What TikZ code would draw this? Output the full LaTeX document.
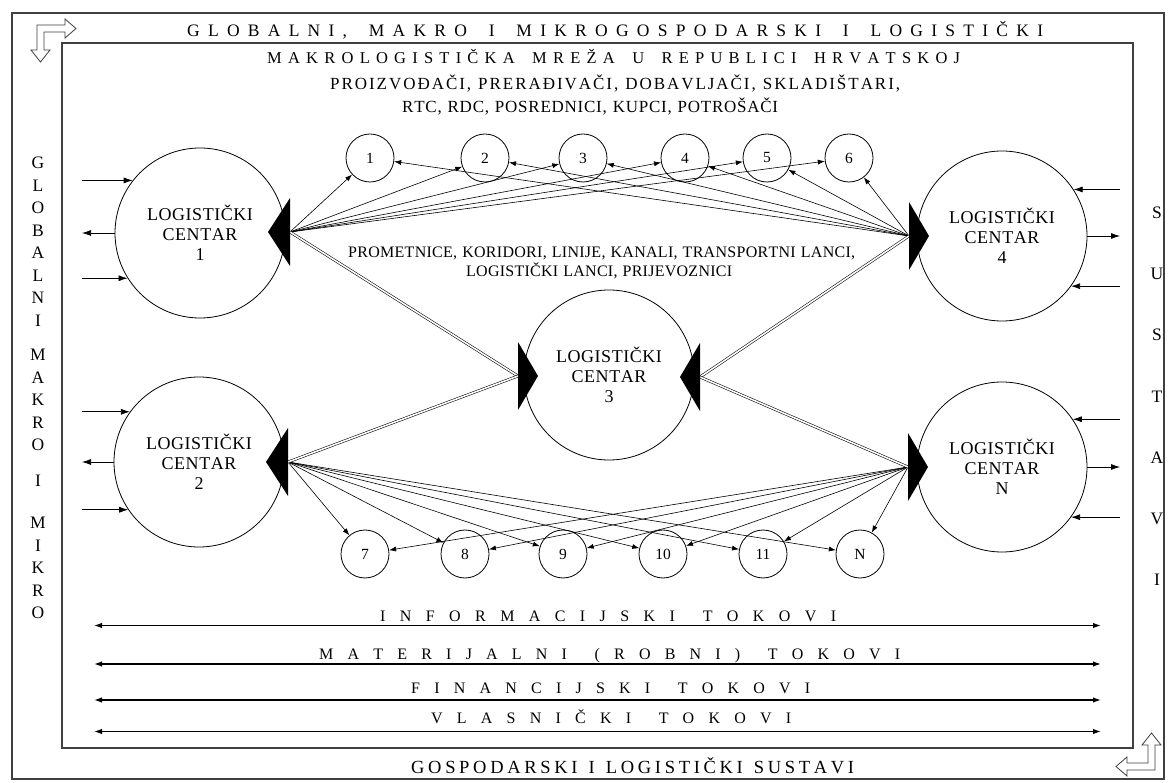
\documentclass[tikz,border=0pt]{standalone}
\usepackage{fontspec}
\setmainfont{Liberation Serif}
\usetikzlibrary{arrows.meta}

% \spread[<word stretch>]{<width>}{<text>}: sets the text in a box of the
% given width, stretching the gaps between letters (and more between words).
\ExplSyntaxOn
\tl_new:N \l__spr_line_tl
\tl_new:N \l__spr_ws_tl
\bool_new:N \l__spr_first_bool
\bool_new:N \l__spr_firstword_bool
\seq_new:N \l__spr_words_seq
\cs_new_protected:Npn \__spr_add_word:n #1
  {
    \bool_if:NTF \l__spr_firstword_bool
      { \bool_set_false:N \l__spr_firstword_bool }
      { \tl_put_right:Nn \l__spr_line_tl { \hskip 0.3em ~ plus ~ \l__spr_ws_tl fil \relax } }
    \bool_set_true:N \l__spr_first_bool
    \tl_map_inline:nn {#1}
      {
        \bool_if:NTF \l__spr_first_bool
          { \bool_set_false:N \l__spr_first_bool }
          { \tl_put_right:Nn \l__spr_line_tl { \hskip 0pt ~ plus ~ 1fil \relax } }
        \tl_put_right:Nn \l__spr_line_tl {##1}
      }
  }
\NewDocumentCommand \spread { O{2} m m }
  {
    \tl_set:Nn \l__spr_ws_tl {#1}
    \tl_clear:N \l__spr_line_tl
    \bool_set_true:N \l__spr_firstword_bool
    \seq_set_split:Nnn \l__spr_words_seq { ~ } {#3}
    \seq_map_function:NN \l__spr_words_seq \__spr_add_word:n
    \hbox to #2 { \l__spr_line_tl }
  }
\ExplSyntaxOff

\begin{document}
\begin{tikzpicture}[x=1pt,y=-1pt,
  frame/.style={draw=black!75, line width=1.1pt},
  corner/.style={draw=black!75, line width=0.8pt, fill=white},
  bigc/.style={circle, draw, line width=0.8pt, minimum size=170pt, inner sep=0pt,
    align=center, font=\fontsize{18}{20}\selectfont},
  smallc/.style={circle, draw, line width=0.8pt, minimum size=48pt, inner sep=0pt,
    font=\fontsize{15.5}{17}\selectfont},
  link/.style={line width=0.6pt, -{Latex[length=7pt,width=5pt]}},
  trunk/.style={double, double distance=1.6pt, line width=0.55pt},
  side/.style={line width=0.75pt, -{Latex[length=9pt,width=6pt]}},
  flow/.style={line width=1.3pt, {Latex[length=8pt,width=5.5pt]}-{Latex[length=8pt,width=5.5pt]}},
  hubtri/.style={fill=black},
  txt/.style={anchor=base west, inner sep=0pt},
  letter/.style={inner sep=0pt, font=\fontsize{17.5}{19}\selectfont},
]
\useasboundingbox (0,0) rectangle (1176,783);
\fill[white] (0,0) rectangle (1176,783);

% frames
\draw[frame] (12,13) rectangle (1164,779);
\draw[frame] (62,43) rectangle (1133,748);

% hollow corner arrows
\draw[corner] (37,25) -- (65,25) -- (65,19) -- (76,28.5) -- (65,38) -- (65,32) -- (44,32)
  -- (44,50) -- (50,50) -- (40.5,62) -- (31,50) -- (37,50) -- cycle;
\draw[corner] (1155,770) -- (1127,770) -- (1127,776) -- (1116,766.5) -- (1127,757) -- (1127,763)
  -- (1148,763) -- (1148,745) -- (1142,745) -- (1151.5,733) -- (1161,745) -- (1155,745) -- cycle;

% headings
\node[txt, font=\fontsize{17.5}{20}\selectfont] (head1) at (187,37)
  {\spread{856pt}{GLOBALNI, MAKRO I MIKROGOSPODARSKI I LOGISTIČKI}};
\node[txt, font=\fontsize{16.5}{19}\selectfont] (head2) at (267,63.5)
  {\spread{693pt}{MAKROLOGISTIČKA MREŽA U REPUBLICI HRVATSKOJ}};
\node[txt, font=\fontsize{17}{19}\selectfont] (actors1) at (330,89.5)
  {\spread[1]{570pt}{PROIZVOĐAČI, PRERAĐIVAČI, DOBAVLJAČI, SKLADIŠTARI,}};
\node[txt, font=\fontsize{17}{19}\selectfont] (actors2) at (402,112.5)
  {\spread[1]{376pt}{RTC, RDC, POSREDNICI, KUPCI, POTROŠAČI}};
\node[txt, font=\fontsize{16}{19}\selectfont] (routes1) at (348,258)
  {\spread[1]{507pt}{PROMETNICE, KORIDORI, LINIJE, KANALI, TRANSPORTNI LANCI,}};
\node[txt, font=\fontsize{16}{19}\selectfont] (routes2) at (466,277)
  {\spread[1]{266pt}{LOGISTIČKI LANCI, PRIJEVOZNICI}};

% vertical side captions
\foreach \ch/\yy [count=\i] in {G/163,L/185.5,O/208,B/230.5,A/253,L/275.5,N/298,I/320.5,
    M/355,A/377.5,K/400,R/422.5,O/445,I/481,M/523,I/545.5,K/568,R/590.5,O/613}
  \node[letter] (lv\i) at (38,\yy) {\ch};
\foreach \ch/\yy [count=\i] in {S/213,U/274,S/335,T/397,A/458,V/519,I/580}
  \node[letter] (rv\i) at (1157,\yy) {\ch};

% logistic centres
\node[bigc] (lc1) at (200,233) {\spread{106pt}{LOGISTIČKI}\\\spread{75pt}{CENTAR}\\1};
\node[bigc] (lc2) at (199,462) {\spread{106pt}{LOGISTIČKI}\\\spread{75pt}{CENTAR}\\2};
\node[bigc] (lc3) at (609,375) {\spread{106pt}{LOGISTIČKI}\\\spread{75pt}{CENTAR}\\3};
\node[bigc] (lc4) at (1002,236) {\spread{106pt}{LOGISTIČKI}\\\spread{75pt}{CENTAR}\\4};
\node[bigc] (lcn) at (1002,467) {\spread{106pt}{LOGISTIČKI}\\\spread{75pt}{CENTAR}\\N};

% participants
\node[smallc] (s1) at (370,158) {1};
\node[smallc] (s2) at (485,158) {2};
\node[smallc] (s3) at (583,158) {3};
\node[smallc] (s4) at (685,158) {4};
\node[smallc] (s5) at (767,158) {5};
\node[smallc] (s6) at (849,158) {6};
\node[smallc] (b7) at (365,554) {7};
\node[smallc] (b8) at (465,554) {8};
\node[smallc] (b9) at (563,554) {9};
\node[smallc] (b10) at (663,554) {10};
\node[smallc] (b11) at (763,554) {11};
\node[smallc] (bn) at (860,554) {N};

% connection hubs
\coordinate (h1) at (290,232);
\coordinate (h2) at (288,462);
\coordinate (h3l) at (518,376);
\coordinate (h3r) at (700,377);
\coordinate (h4) at (909,236);
\coordinate (hn) at (908,467);

% links to participants
\foreach \s in {s1,s2,s3,s4,s5,s6} {
  \draw[link] (h1) -- (\s);
  \draw[link] (h4) -- (\s);
}
\foreach \s in {b7,b8,b9,b10,b11,bn} {
  \draw[link] (h2) -- (\s);
  \draw[link] (hn) -- (\s);
}

% trunk routes
\draw[trunk] (h1) -- (h3l);
\draw[trunk] (h2) -- (h3l);
\draw[trunk] (h4) -- (h3r);
\draw[trunk] (hn) -- (h3r);

% hub wedges
\fill[hubtri] (h1) ++(0,-34) -- ++(-22,34) -- ++(22,34) -- cycle;
\fill[hubtri] (h2) ++(0,-34) -- ++(-22,34) -- ++(22,34) -- cycle;
\fill[hubtri] (h3l) ++(0,-34) -- ++(20,34) -- ++(-20,34) -- cycle;
\fill[hubtri] (h3r) ++(0,-34) -- ++(-20,34) -- ++(20,34) -- cycle;
\fill[hubtri] (h4) ++(0,-34) -- ++(20,34) -- ++(-20,34) -- cycle;
\fill[hubtri] (hn) ++(0,-34) -- ++(20,34) -- ++(-20,34) -- cycle;

% external inputs and outputs
\coordinate (eL) at (82,0);
\coordinate (eR) at (1120,0);
\draw[side] (lc1.142.6 -| eL) -- (lc1.142.6);
\draw[side] (lc1.west) -- (lc1.west -| eL);
\draw[side] (lc1.212.4 -| eL) -- (lc1.212.4);
\draw[side] (lc2.144.8 -| eL) -- (lc2.144.8);
\draw[side] (lc2.west) -- (lc2.west -| eL);
\draw[side] (lc2.214.4 -| eL) -- (lc2.214.4);
\draw[side] (lc4.33.6 -| eR) -- (lc4.33.6);
\draw[side] (lc4.east) -- (lc4.east -| eR);
\draw[side] (lc4.324.8 -| eR) -- (lc4.324.8);
\draw[side] (lcn.34.4 -| eR) -- (lcn.34.4);
\draw[side] (lcn.east) -- (lcn.east -| eR);
\draw[side] (lcn.324 -| eR) -- (lcn.324);

% flows
\coordinate (f1a) at (94,625.5);  \coordinate (f1b) at (1101,625.5);
\coordinate (f2a) at (94,664);    \coordinate (f2b) at (1101,664);
\coordinate (f3a) at (94,700);    \coordinate (f3b) at (1101,700);
\coordinate (f4a) at (94,731.5);  \coordinate (f4b) at (1101,731.5);
\draw[flow] (f1a) -- (f1b);
\draw[flow] (f2a) -- (f2b);
\draw[flow] (f3a) -- (f3b);
\draw[flow] (f4a) -- (f4b);
\node[txt, font=\fontsize{16}{18}\selectfont] (fl1) at (380,621)
  {\spread[1.6]{456pt}{INFORMACIJSKI TOKOVI}};
\node[txt, font=\fontsize{16}{18}\selectfont] (fl2) at (319,659)
  {\spread[1.6]{581pt}{MATERIJALNI (ROBNI) TOKOVI}};
\node[txt, font=\fontsize{16}{18}\selectfont] (fl3) at (411,693)
  {\spread[1.6]{399pt}{FINANCIJSKI TOKOVI}};
\node[txt, font=\fontsize{16}{18}\selectfont] (fl4) at (431,723)
  {\spread[1.6]{360pt}{VLASNIČKI TOKOVI}};

% bottom heading
\node[txt, font=\fontsize{18.5}{20}\selectfont] (foot) at (411,773.5)
  {\spread[1.5]{443pt}{GOSPODARSKI I LOGISTIČKI SUSTAVI}};
\end{tikzpicture}
\end{document}
